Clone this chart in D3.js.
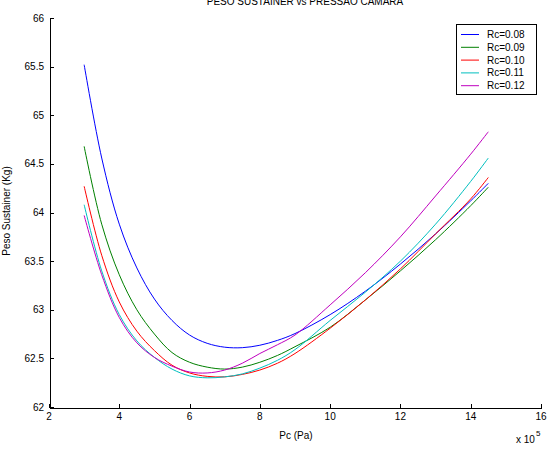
<!DOCTYPE html>
<html>
<head>
<meta charset="utf-8">
<script src="https://cdn.jsdelivr.net/npm/d3@7"></script>
<style>
  body { margin: 0; background: #fff; }
  text { font-family: "Liberation Sans", Arial, sans-serif; font-size: 10px; fill: #000; }
</style>
</head>
<body>
<svg id="chart" width="549" height="451"></svg>
<script>
// --------DATA--------------
var pc = [3, 3.5, 4, 4.5, 5, 5.5, 6, 6.5, 7, 7.5, 8, 8.5, 9, 10, 11, 12, 13, 14, 14.5];
var rc08 = [65.52, 64.56, 63.88, 63.43, 63.11, 62.89, 62.74, 62.655, 62.615, 62.61, 62.635, 62.685, 62.755, 62.95, 63.19, 63.47, 63.78, 64.12, 64.30];
var rc09 = [64.68, 63.88, 63.36, 63.00, 62.75, 62.56, 62.46, 62.41, 62.39, 62.41, 62.46, 62.53, 62.62, 62.82, 63.10, 63.40, 63.72, 64.07, 64.26];
var rc10 = [64.27, 63.56, 63.08, 62.78, 62.58, 62.43, 62.35, 62.315, 62.31, 62.335, 62.38, 62.45, 62.55, 62.81, 63.10, 63.42, 63.78, 64.14, 64.36];
var rc11 = [64.08, 63.40, 62.95, 62.68, 62.51, 62.39, 62.32, 62.30, 62.31, 62.34, 62.40, 62.48, 62.59, 62.89, 63.18, 63.50, 63.88, 64.32, 64.56];
var rc12 = [63.97, 63.36, 62.92, 62.66, 62.51, 62.42, 62.36, 62.35, 62.38, 62.45, 62.55, 62.64, 62.74, 63.05, 63.38, 63.75, 64.17, 64.60, 64.83];

var seriesNames = ["Rc=0.08", "Rc=0.09", "Rc=0.10", "Rc=0.11", "Rc=0.12"];
var seriesValues = [rc08, rc09, rc10, rc11, rc12];
var seriesColors = ["#0000ff", "#008000", "#ff0000", "#00bfbf", "#bf00bf"];

var xTicks = [2, 4, 6, 8, 10, 12, 14, 16];
var yTicks = [62, 62.5, 63, 63.5, 64, 64.5, 65, 65.5, 66];

// --------LAYOUT--------------
var svg = d3.select("#chart");
var plotLeft = 49, plotRight = 541, plotTop = 18, plotBottom = 407;

var x = d3.scaleLinear().domain([2, 16]).range([plotLeft, plotRight]);
var y = d3.scaleLinear().domain([62, 66]).range([plotBottom, plotTop]);

// axes (matlab style, ticks pointing inward)
svg.append("g")
  .attr("transform", "translate(0," + (plotBottom + 0.5) + ")")
  .call(d3.axisTop(x).tickValues(xTicks).tickSize(4).tickSizeOuter(0).tickFormat(""));
svg.append("g")
  .attr("transform", "translate(" + (plotLeft + 0.5) + ",0)")
  .call(d3.axisRight(y).tickValues(yTicks).tickSize(4).tickSizeOuter(0).tickFormat(""));
svg.selectAll(".domain").attr("stroke", "#000").attr("shape-rendering", "crispEdges");
svg.selectAll(".tick line").attr("stroke", "#000").attr("shape-rendering", "crispEdges");

// tick labels
svg.selectAll(".xlab")
  .data(xTicks)
  .enter().append("text")
  .attr("class", "xlab")
  .attr("x", function(d) { return x(d); })
  .attr("y", plotBottom + 13)
  .attr("text-anchor", "middle")
  .text(function(d) { return d; });

svg.selectAll(".ylab")
  .data(yTicks)
  .enter().append("text")
  .attr("class", "ylab")
  .attr("x", plotLeft - 5)
  .attr("y", function(d) { return y(d) + 3.5; })
  .attr("text-anchor", "end")
  .text(function(d) { return d; });

// titles
svg.append("text")
  .attr("x", 305)
  .attr("y", 5)
  .attr("text-anchor", "middle")
  .text("PESO SUSTAINER vs PRESSAO CAMARA");

svg.append("text")
  .attr("x", 296)
  .attr("y", 439)
  .attr("text-anchor", "middle")
  .text("Pc (Pa)");

svg.append("text")
  .attr("transform", "translate(10,211) rotate(-90)")
  .attr("text-anchor", "middle")
  .text("Peso Sustainer (Kg)");

var mult = svg.append("text")
  .attr("x", 516)
  .attr("y", 443);
mult.append("tspan").text("x 10");
mult.append("tspan").attr("dy", -7).attr("dx", 1).style("font-size", "8px").text("5");

// --------LINES--------------
var line = d3.line()
  .x(function(d, i) { return x(pc[i]); })
  .y(function(d) { return y(d); })
  .curve(d3.curveCatmullRom);

svg.selectAll(".series")
  .data(seriesValues)
  .enter().append("path")
  .attr("class", "series")
  .attr("d", line)
  .attr("fill", "none")
  .attr("stroke-width", 1)
  .attr("stroke", function(d, i) { return seriesColors[i]; });

// --------LEGEND--------------
var legend = svg.append("g").attr("transform", "translate(456,24)");
legend.append("rect")
  .attr("x", 0.5).attr("y", 0.5)
  .attr("width", 80).attr("height", 70)
  .attr("fill", "#fff")
  .attr("stroke", "#000")
  .attr("shape-rendering", "crispEdges");

var item = legend.selectAll(".item")
  .data(seriesNames)
  .enter().append("g")
  .attr("class", "item")
  .attr("transform", function(d, i) { return "translate(0," + (10.5 + i * 12.8) + ")"; });

item.append("line")
  .attr("x1", 5).attr("x2", 23)
  .attr("stroke", function(d, i) { return seriesColors[i]; })
  .attr("stroke-width", 1);

item.append("text")
  .attr("x", 31)
  .attr("y", 3.5)
  .text(function(d) { return d; });
</script>
</body>
</html>
